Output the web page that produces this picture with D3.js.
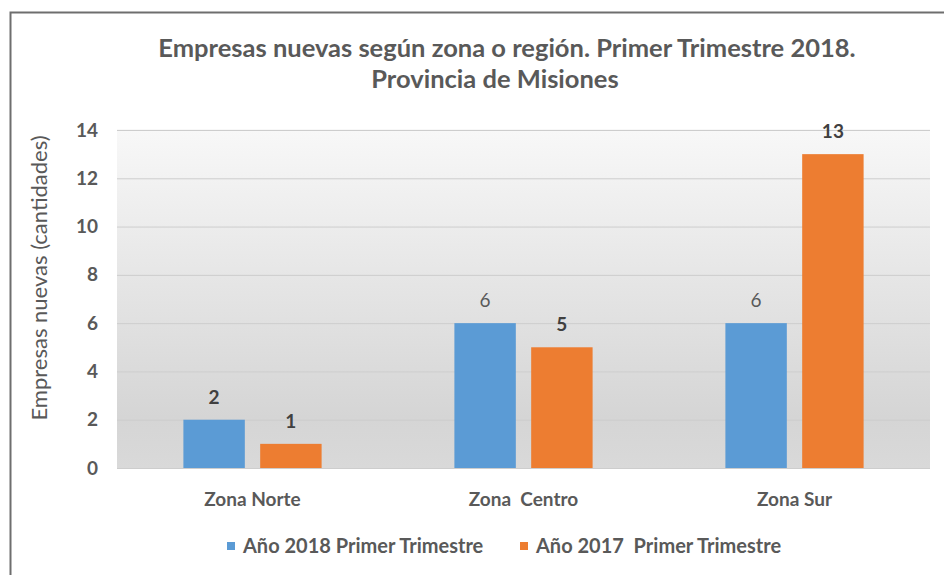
<!DOCTYPE html>
<html>
<head>
<meta charset="utf-8">
<script src="https://cdn.jsdelivr.net/npm/d3@7"></script>
<style>
  html, body { margin: 0; padding: 0; background: #fff; overflow: hidden; }
  svg { display: block; font-family: Lato, "Open Sans", sans-serif; }
</style>
</head>
<body>
<svg id="chart" width="944" height="575"></svg>
<script>
// Empresas nuevas por zona, primer trimestre 2018 vs 2017
const categories = ["Zona Norte", "Zona  Centro", "Zona Sur"];
const seriesNames = ["Año 2018 Primer Trimestre", "Año 2017  Primer Trimestre"];
const values2018 = [2, 6, 6];
const values2017 = [1, 5, 13];
const yTicks = [0, 2, 4, 6, 8, 10, 12, 14];
const titleLines = ["Empresas nuevas según zona o región. Primer Trimestre 2018.", "Provincia de Misiones"];
const yTitle = "Empresas nuevas (cantidades)";

const colors = ["#5b9bd5", "#ed7d31"];
const textGray = "#595959";

const svg = d3.select("#chart");
const plot = { left: 117, right: 930, top: 130, bottom: 468 };

// outer chart frame (top and left edges fall inside the page)
svg.append("path")
  .attr("d", "M10.5,575 V12.5 H944")
  .attr("fill", "none").attr("stroke", "#6e6e6e").attr("stroke-width", 2);

// plot area background gradient
const defs = svg.append("defs");
const grad = defs.append("linearGradient").attr("id", "plotBg")
  .attr("x1", 0).attr("y1", 0).attr("x2", 0).attr("y2", 1);
grad.append("stop").attr("offset", "0%").attr("stop-color", "#f8f8f8");
grad.append("stop").attr("offset", "85%").attr("stop-color", "#d5d5d5");
grad.append("stop").attr("offset", "100%").attr("stop-color", "#d9d9d9");

svg.append("rect")
  .attr("x", plot.left).attr("y", plot.top - 1)
  .attr("width", plot.right - plot.left).attr("height", plot.bottom - plot.top + 1)
  .attr("fill", "url(#plotBg)");

// scales
const x0 = d3.scaleBand().domain(categories).range([plot.left, plot.right]).padding(0);
const groupW = x0.bandwidth() * 0.51;
const x1 = d3.scaleBand().domain(seriesNames).range([0, groupW]).paddingInner(0.2);
const y = d3.scaleLinear().domain([0, 14]).range([plot.bottom, plot.top]);

// y axis with gridlines
const yAxis = svg.append("g")
  .attr("transform", `translate(${plot.left},0)`)
  .call(d3.axisLeft(y).tickValues(yTicks).tickSize(-(plot.right - plot.left)).tickPadding(19));
yAxis.select(".domain").remove();
yAxis.selectAll(".tick line").attr("stroke", "#cdcdcd").attr("stroke-width", 1);
yAxis.selectAll(".tick text")
  .attr("fill", textGray).attr("font-size", 19).attr("font-weight", 700)
  .attr("font-family", "Lato, sans-serif");

// x axis labels
const xAxis = svg.append("g")
  .attr("transform", `translate(0,${plot.bottom})`)
  .call(d3.axisBottom(x0).tickSize(0).tickPadding(25));
xAxis.select(".domain").remove();
xAxis.selectAll(".tick text")
  .attr("fill", textGray).attr("font-size", 19).attr("font-weight", 700)
  .attr("font-family", "Lato, sans-serif")
  .style("white-space", "pre");

// bars
const rows = categories.map((c, i) => ({ cat: c, vals: [values2018[i], values2017[i]] }));
const groups = svg.append("g").selectAll("g").data(rows).join("g")
  .attr("transform", d => `translate(${x0(d.cat) + (x0.bandwidth() - groupW) / 2},0)`);

groups.selectAll("rect")
  .data(d => d.vals.map((v, s) => ({ v, s, cat: d.cat })))
  .join("rect")
  .attr("x", d => x1(seriesNames[d.s]))
  .attr("y", d => y(d.v))
  .attr("width", x1.bandwidth())
  .attr("height", d => y(0) - y(d.v))
  .attr("fill", d => colors[d.s]);

// value labels; the 2018 labels for Centro and Sur are set in regular weight
const regularLabels = new Set(["0-1", "0-2"]);
groups.selectAll("text.val")
  .data((d, i) => d.vals.map((v, s) => ({ v, s, i })))
  .join("text")
  .attr("class", "val")
  .attr("x", d => x1(seriesNames[d.s]) + x1.bandwidth() / 2)
  .attr("y", d => y(d.v) - 16)
  .attr("text-anchor", "middle")
  .attr("font-size", 19)
  .attr("font-weight", d => regularLabels.has(`${d.s}-${d.i}`) ? 400 : 700)
  .attr("fill", d => regularLabels.has(`${d.s}-${d.i}`) ? "#595959" : "#404040")
  .text(d => d.v);

// title
const titleX = [507, 495];
svg.append("text")
  .attr("y", 57)
  .attr("text-anchor", "middle")
  .attr("font-size", 25.5).attr("font-weight", 700).attr("fill", textGray)
  .selectAll("tspan").data(titleLines).join("tspan")
  .attr("x", (d, i) => titleX[i]).attr("dy", (d, i) => i === 0 ? 0 : 31)
  .text(d => d);

// y axis title
svg.append("text")
  .attr("transform", `translate(47,278) rotate(-90)`)
  .attr("text-anchor", "middle")
  .attr("font-size", 22).attr("fill", textGray)
  .text(yTitle);

// legend
const legendX = [227, 520];
const legend = svg.append("g").selectAll("g").data(seriesNames).join("g")
  .attr("transform", (d, i) => `translate(${legendX[i]},0)`);
legend.append("rect")
  .attr("x", 0).attr("y", 542).attr("width", 8).attr("height", 8)
  .attr("fill", (d, i) => colors[i]);
legend.append("text")
  .attr("x", 16).attr("y", 553)
  .attr("font-size", 20).attr("font-weight", 700).attr("fill", textGray)
  .style("white-space", "pre")
  .text(d => d);
</script>
</body>
</html>
